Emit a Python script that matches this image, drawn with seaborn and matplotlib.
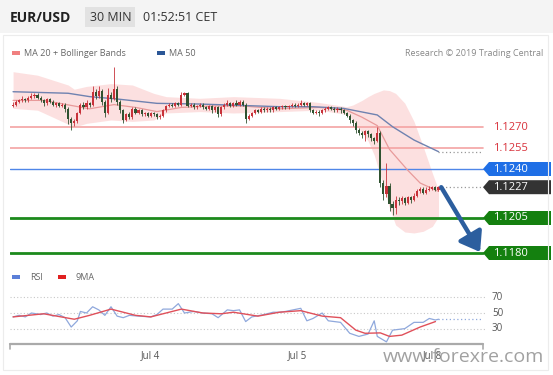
import numpy as np
import pandas as pd
import matplotlib
matplotlib.use("Agg")
import matplotlib.pyplot as plt
import seaborn as sns
from matplotlib.patches import Rectangle, Polygon, FancyArrowPatch
from matplotlib.transforms import blended_transform_factory

# ---------------- data (prices in pips above 1.1200) ----------------
BASE = 1.1200
PIP = 0.0001
first_open = 85
closes = [86, 88, 89, 90, 89, 91, 92, 93, 91, 89,
          87, 90, 88, 86, 87, 85, 86, 83, 76, 73,
          74, 80, 86, 84, 87, 86, 95, 92, 96, 88,
          80, 93, 90, 97, 88, 82, 75, 79, 77, 83,
          80, 82, 79, 80, 78, 80, 79, 77, 78, 82,
          85, 86, 85, 87, 86, 93, 94, 85, 86, 84,
          85, 86, 84, 83, 85, 82, 84, 79,
          84, 86, 87, 85, 87, 86, 88, 86, 76, 78,
          80, 82, 81, 83, 82, 83, 82, 84, 83, 84,
          85, 84, 85, 86, 85, 86, 87, 86, 87, 82,
          80, 81, 80, 82, 83, 84, 83, 82, 83, 82,
          80, 78, 75, 73, 68, 66, 64, 67, 65, 62,
          60, 66, 30, 22, 28, 15, 12, 18, 17, 19,
          16, 20, 18, 21, 24, 26, 23, 25, 26, 27,
          25, 27]
highs = [88, 89, 90, 92, 91, 92, 94, 94, 94, 92,
         90, 91, 91, 89, 88, 88, 87, 87, 84, 77,
         76, 81, 87, 88, 89, 88, 99, 97, 99, 97,
         89, 98, 95, 113, 99, 89, 83, 80, 81, 84,
         84, 83, 83, 81, 81, 81, 81, 80, 79, 83,
         86, 87, 87, 88, 88, 95, 95, 95, 87, 87,
         86, 87, 87, 85, 86, 86, 85, 85,
         85, 87, 89, 88, 88, 89, 89, 89, 87, 79,
         81, 83, 83, 84, 84, 84, 84, 85, 85, 85,
         86, 86, 86, 87, 87, 87, 89, 88, 88, 88,
         83, 82, 82, 83, 84, 85, 85, 84, 84, 84,
         83, 81, 79, 76, 74, 69, 67, 68, 68, 66,
         63, 70, 67, 32, 44, 30, 17, 21, 20, 21,
         20, 21, 21, 23, 26, 27, 27, 27, 28, 28,
         28, 28]
lows = [84, 85, 87, 88, 88, 88, 90, 91, 90, 88,
        85, 86, 87, 85, 84, 84, 84, 81, 72, 68,
        71, 73, 79, 83, 83, 84, 85, 90, 91, 86,
        77, 79, 88, 89, 86, 80, 73, 74, 76, 76,
        79, 79, 78, 78, 77, 77, 78, 76, 76, 77,
        81, 84, 84, 84, 85, 85, 92, 84, 84, 83,
        83, 84, 83, 82, 82, 80, 81, 77,
        78, 83, 85, 84, 84, 85, 85, 85, 73, 75,
        77, 79, 80, 80, 81, 81, 81, 81, 82, 82,
        83, 83, 83, 84, 84, 84, 85, 85, 85, 81,
        79, 79, 78, 79, 81, 82, 82, 81, 81, 80,
        79, 77, 73, 71, 66, 64, 62, 60, 63, 60,
        58, 59, 27, 18, 20, 10, 7, 8, 14, 15,
        14, 15, 16, 17, 20, 23, 22, 22, 24, 25,
        24, 24]

ma50_idx = [0, 18, 25, 34, 47, 61, 87, 98, 108, 119, 124, 131, 139]
ma50_val = [95.2, 94.1, 91.7, 90, 86.9, 86.4, 84.5, 84.5, 83.3, 78.6, 70.2, 60.7, 52.4]

ma20_idx = [0, 10, 20, 25, 33, 40, 47, 55, 65, 75, 87, 100, 109, 114, 119, 123, 129, 133, 139]
ma20_val = [89, 89, 85, 83, 86, 84, 81, 84, 85, 85, 83, 84, 82, 77, 71, 54, 39, 30, 24]

bb_idx = [0, 8, 18, 20, 24, 32, 39, 46, 50, 61, 72, 87, 100, 109, 111, 114, 116, 118,
          121, 123, 125, 128, 131, 134, 137, 139]
bb_up = [109.5, 107, 100, 97, 99, 101, 100, 94, 91.7, 90.5, 91.7, 90.5, 87.5, 84.5, 85.7,
         89, 91.7, 94, 96.5, 96, 94, 87, 74, 56, 37, 25]
bb_lo = [83.3, 82, 72, 70, 72.6, 75, 74, 75, 80, 81, 80, 81, 82, 79, 75, 66, 60, 50,
         28, 12, 0, -5, -5.7, -4.5, -1, 6]

rsi_idx = [0, 2, 4, 6, 9, 11, 13, 15, 17, 19, 21, 22, 24, 26, 28, 30, 32, 34, 36, 38,
           41, 45, 47, 49, 52, 54, 56, 59, 62, 65, 67, 70, 72, 74, 76, 78, 82, 85, 87, 89,
           94, 96, 98, 101, 103, 107, 110, 113, 116, 118, 119, 122, 124, 126, 128, 131,
           134, 136, 138, 139]
rsi_val = [45, 47, 45, 50, 48, 50, 46, 48, 44, 32, 40, 52, 50, 58, 54, 47, 58, 46, 44, 47,
           46, 45, 48, 55, 55, 62, 50, 52, 50, 49, 44, 54, 53, 54, 39, 45, 48, 51, 51, 52,
           56, 40, 43, 50, 40, 38, 24, 20, 23, 40, 20, 13, 28, 29, 30, 38, 38, 43, 41, 42]
rsi_ma_idx = [0, 10, 20, 25, 32, 40, 45, 50, 55, 62, 68, 72, 80, 87, 94, 101, 107, 112,
              115, 120, 123, 127, 133, 138]
rsi_ma_val = [45, 49, 42, 47, 55, 47, 45, 50, 55, 50, 49, 51, 46, 51, 53, 46, 44, 28,
              24, 24.5, 20, 21.6, 32, 39]

levels = [1.1270, 1.1255, 1.1240, 1.1227, 1.1205, 1.1180]
level_labels = ["1.1270", "1.1255", "1.1240", "1.1227", "1.1205", "1.1180"]
date_labels = ["Jul 4", "Jul 5", "Jul 8"]
date_idx = [44.8, 92.8, 136.9]
rsi_levels = [70, 50, 30]
arrow_from = (139.9, 1.1227)
arrow_to = (152.6, 1.11807)

# ---------------- figure ----------------
sns.set_style("white")
plt.rcParams["font.family"] = ["Open Sans", "DejaVu Sans"]

W, H = 553, 375
fig = plt.figure(figsize=(W / 100, H / 100), dpi=100)
fig.patch.set_facecolor("white")


def fx(px):
    return px / W


def fy(py):
    return 1 - py / H


# header band
fig.patches.append(Rectangle((0, fy(33)), 1, 33 / H, transform=fig.transFigure,
                             facecolor="#f4f4f4", edgecolor="none", zorder=0))
fig.patches.append(Rectangle((fx(85), fy(27)), 50 / W, 20 / H, transform=fig.transFigure,
                             facecolor="#e2e2e2", edgecolor="none", zorder=1))
# outer light frame
fig.patches.append(Rectangle((fx(3), fy(370)), 545 / W, 335 / H, transform=fig.transFigure,
                             facecolor="none", edgecolor="#ececec", lw=0.8, zorder=0))
fig.text(fx(10), fy(17.5), "EUR/USD", fontsize=10, fontweight="bold", color="#222222", va="center")
fig.text(fx(90), fy(17.5), "30 MIN", fontsize=9, color="#333333", va="center")
fig.text(fx(143), fy(17.5), "01:52:51 CET", fontsize=9, color="#333333", va="center")

# legends
fig.patches.append(Rectangle((fx(12), fy(55)), 8 / W, 4 / H, transform=fig.transFigure,
                             facecolor="#f08080", edgecolor="none"))
fig.text(fx(24), fy(53), "MA 20 + Bollinger Bands", fontsize=6.5, color="#666666", va="center")
fig.patches.append(Rectangle((fx(157), fy(55)), 8 / W, 4 / H, transform=fig.transFigure,
                             facecolor="#2b5797", edgecolor="none"))
fig.text(fx(169), fy(53), "MA 50", fontsize=6.5, color="#666666", va="center")
fig.text(fx(543), fy(53), "Research \u00a9 2019 Trading Central", fontsize=6.5,
         color="#888888", va="center", ha="right")

fig.patches.append(Rectangle((fx(12), fy(279)), 8 / W, 4 / H, transform=fig.transFigure,
                             facecolor="#5b7fd8", edgecolor="none"))
fig.text(fx(30), fy(277), "RSI", fontsize=6.5, color="#666666", va="center")
fig.patches.append(Rectangle((fx(58), fy(279)), 8 / W, 4 / H, transform=fig.transFigure,
                             facecolor="#e02020", edgecolor="none"))
fig.text(fx(76), fy(277), "9MA", fontsize=6.5, color="#666666", va="center")

# ---------------- main price axes ----------------
XMIN, XMAX = -1, 154.2
ax = fig.add_axes([fx(10), fy(262), 475 / W, 200 / H])
ax.set_xlim(XMIN, XMAX)
ax.set_ylim(1.1240 - 93 / 14000, 1.1240 + 107 / 14000)
ax.axis("off")

to_p = lambda a: np.asarray(a, dtype=float) * PIP + BASE
c = np.array(closes, dtype=float)
o = np.concatenate([[first_open], c[:-1]])
idx = np.arange(len(c))

# Bollinger band
ax.fill_between(bb_idx, to_p(bb_lo), to_p(bb_up), color="#fcd6d6", alpha=0.75, lw=0, zorder=1)

# horizontal levels
ax.axhline(levels[0], xmax=0.996, color="#f4a3a3", lw=1.2, zorder=2)
ax.axhline(levels[1], xmax=0.996, color="#f4a3a3", lw=1.2, zorder=2)
ax.axhline(levels[2], xmax=0.996, color="#4f86e8", lw=1.0, zorder=2)
ax.axhline(levels[4], xmax=0.996, color="#1c8a1c", lw=2.0, zorder=2)
ax.axhline(levels[5], xmax=0.996, color="#1c8a1c", lw=2.0, zorder=2)

# MA lines
sns.lineplot(x=ma20_idx, y=to_p(ma20_val), ax=ax, color="#e89a9a", lw=0.9, zorder=3)
sns.lineplot(x=ma50_idx, y=to_p(ma50_val), ax=ax, color="#6f82b0", lw=1.0, zorder=3)
ax.plot([ma50_idx[-1], XMAX - 0.7], [to_p(ma50_val[-1])] * 2, color="#999999",
        lw=0.9, ls=(0, (1, 2)), zorder=3)
ax.plot([idx[-1], XMAX - 0.7], [levels[3]] * 2, color="#999999", lw=0.9,
        ls=(0, (1, 2)), zorder=3)

# candles
up = c >= o
col = np.where(up, "#c8323a", "#2f5230")
ax.vlines(idx, to_p(lows), to_p(highs), colors=col, lw=0.6, zorder=4)
body_lo = to_p(np.minimum(o, c))
body_h = np.maximum(np.abs(c - o), 0.4) * PIP
ax.bar(idx, body_h, bottom=body_lo, width=0.7, color=col, lw=0, zorder=5)

# arrow
ax.add_patch(FancyArrowPatch(arrow_from, arrow_to, arrowstyle="-|>,head_length=7,head_width=5",
                             mutation_scale=1.6, color="#2c5e9e", lw=3.2, zorder=6,
                             clip_on=False, shrinkA=0, shrinkB=0))

# right labels
tr = blended_transform_factory(ax.transAxes, ax.transData)
axfx = lambda px: (px - 10) / 475
half = 7 / 14000
tag_colors = {2: "#1f6fe6", 3: "#333333", 4: "#14800f", 5: "#14800f"}
for k, (lv, lab) in enumerate(zip(levels, level_labels)):
    if k in tag_colors:
        poly = Polygon([(axfx(483), lv), (axfx(489), lv + half), (axfx(551), lv + half),
                        (axfx(551), lv - half), (axfx(489), lv - half)],
                       closed=True, transform=tr, facecolor=tag_colors[k],
                       edgecolor="none", clip_on=False, zorder=7)
        ax.add_patch(poly)
        ax.text(axfx(493), lv, lab, transform=tr, color="white", fontsize=8,
                va="center", ha="left", clip_on=False, zorder=8)
    else:
        ax.text(axfx(493), lv, lab, transform=tr, color="#d8323c", fontsize=8,
                va="center", ha="left", clip_on=False, zorder=8)

# ---------------- RSI axes ----------------
rx = fig.add_axes([fx(10), fy(344), 475 / W, 59 / H])
rx.set_xlim(XMIN, XMAX)
rx.set_ylim(50 - 31 / 0.78, 50 + 28 / 0.78)
rx.axis("off")
for lv in rsi_levels:
    rx.axhline(lv, color="#c8c8c8", lw=0.8, ls=(0, (1, 2)))
    rx.text(axfx(492), lv, str(lv), transform=blended_transform_factory(rx.transAxes, rx.transData),
            fontsize=7, color="#555555", va="center", ha="left", clip_on=False)
sns.lineplot(x=rsi_idx, y=rsi_val, ax=rx, color="#8fa8dc", lw=0.9, zorder=3)
sns.lineplot(x=rsi_ma_idx, y=rsi_ma_val, ax=rx, color="#e0505a", lw=1.0, zorder=4)
rx.plot([rsi_idx[-1], XMAX - 0.7], [rsi_val[-1]] * 2, color="#8fa8dc", lw=0.9,
        ls=(0, (1, 2)))

# bottom time axis
fig.lines.append(plt.Line2D([fx(10), fx(483)], [fy(344), fy(344)], transform=fig.transFigure,
                            color="#aaaaaa", lw=1.6))
fig.lines.append(plt.Line2D([fx(10), fx(10)], [fy(344), fy(349)], transform=fig.transFigure,
                            color="#aaaaaa", lw=1.2))
fig.lines.append(plt.Line2D([fx(483), fx(483)], [fy(344), fy(349)], transform=fig.transFigure,
                            color="#aaaaaa", lw=1.2))
for lab, di in zip(date_labels, date_idx):
    px = 10 + (di - XMIN) * 475 / (XMAX - XMIN)
    fig.text(fx(px), fy(356), lab, fontsize=7, color="#555555", ha="center", va="center")

# watermark
fig.text(fx(463), fy(357), "www.forexre.com", fontsize=14, color="#8a8a8a", alpha=0.8,
         ha="center", va="center")

fig.savefig("out.png", dpi=100)
